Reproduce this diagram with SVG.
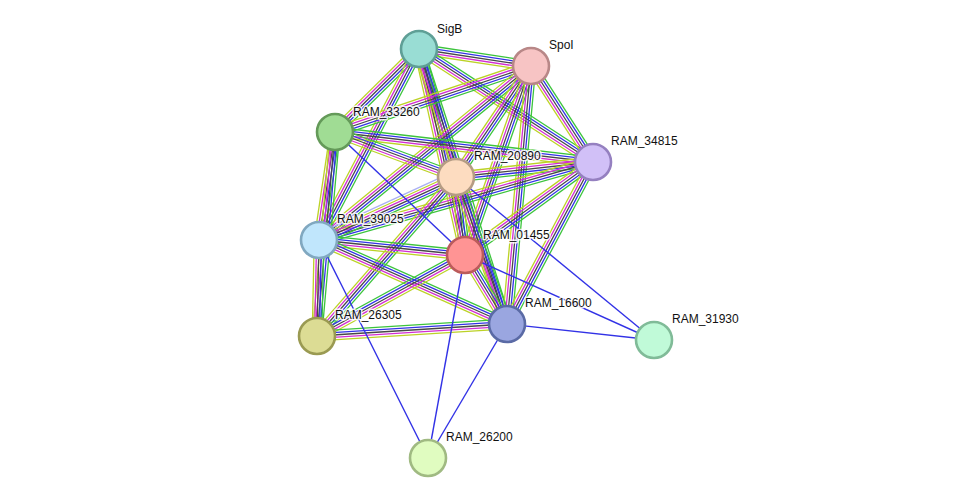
<svg xmlns="http://www.w3.org/2000/svg" width="975" height="503" viewBox="0 0 975 503">
<style>
.e line{stroke-width:1.3;fill:none}
.b{stroke:#3232e6;stroke-width:1.4;fill:none}
.n circle{stroke-width:2.6}
.n text{font-family:"Liberation Sans",Arial,sans-serif;font-size:12px;fill:#111;stroke:#fff;stroke-width:3;stroke-opacity:0.85;paint-order:stroke;stroke-linejoin:round}
</style>
<defs>
<g id="f" class="e">
<line x1="0" y1="-4.8" x2="1" y2="-4.8" stroke="#3cc43c"/>
<line x1="0" y1="-2.4" x2="1" y2="-2.4" stroke="#3232e6"/>
<line x1="0" y1="0" x2="1" y2="0" stroke="#474747"/>
<line x1="0" y1="2.4" x2="1" y2="2.4" stroke="#d22ed2"/>
<line x1="0" y1="4.8" x2="1" y2="4.8" stroke="#bcd226"/>
</g>
<g id="h" class="e">
<line x1="0" y1="-6" x2="1" y2="-6" stroke="#3cc43c"/>
<line x1="0" y1="-3.6" x2="1" y2="-3.6" stroke="#3232e6"/>
<line x1="0" y1="-1.2" x2="1" y2="-1.2" stroke="#474747"/>
<line x1="0" y1="1.2" x2="1" y2="1.2" stroke="#d22ed2"/>
<line x1="0" y1="3.6" x2="1" y2="3.6" stroke="#bcd226"/>
<line x1="0" y1="6" x2="1" y2="6" stroke="#aab0f4"/>
</g>
</defs>
<rect width="975" height="503" fill="#fff"/>
<g id="connectors">
<use href="#f" transform="translate(419,49) rotate(8.63) scale(113.3,1)"/>
<use href="#f" transform="translate(419,49) rotate(33.0) scale(207.5,1)"/>
<use href="#f" transform="translate(419,49) rotate(135.34) scale(118.1,1)"/>
<use href="#f" transform="translate(419,49) rotate(117.64) scale(215.6,1)"/>
<use href="#f" transform="translate(419,49) rotate(73.88) scale(133.2,1)"/>
<use href="#f" transform="translate(419,49) rotate(77.41) scale(211.1,1)"/>
<use href="#f" transform="translate(419,49) rotate(72.26) scale(288.7,1)"/>
<use href="#f" transform="translate(531,66) rotate(161.39) scale(206.8,1)"/>
<use href="#f" transform="translate(531,66) rotate(140.62) scale(274.3,1)"/>
<use href="#f" transform="translate(531,66) rotate(124.05) scale(134.0,1)"/>
<use href="#f" transform="translate(531,66) rotate(109.25) scale(200.2,1)"/>
<use href="#f" transform="translate(531,66) rotate(95.31) scale(259.1,1)"/>
<use href="#f" transform="translate(531,66) rotate(57.14) scale(114.3,1)"/>
<use href="#f" transform="translate(335,132) rotate(6.63) scale(259.7,1)"/>
<use href="#f" transform="translate(335,132) rotate(20.40) scale(129.1,1)"/>
<use href="#f" transform="translate(335,132) rotate(98.43) scale(109.2,1)"/>
<use href="#f" transform="translate(335,132) rotate(95.04) scale(204.8,1)"/>
<use href="#f" transform="translate(593,162) rotate(173.75) scale(137.8,1)"/>
<use href="#f" transform="translate(593,162) rotate(164.11) scale(284.9,1)"/>
<use href="#f" transform="translate(593,162) rotate(144.0) scale(158.2,1)"/>
<use href="#f" transform="translate(593,162) rotate(117.96) scale(183.4,1)"/>
<use href="#h" transform="translate(456,177) rotate(155.30) scale(150.8,1)"/>
<use href="#f" transform="translate(456,177) rotate(83.42) scale(78.5,1)"/>
<use href="#f" transform="translate(456,177) rotate(70.87) scale(155.6,1)"/>
<use href="#f" transform="translate(456,177) rotate(131.16) scale(211.2,1)"/>
<use href="#f" transform="translate(319,240) rotate(91.19) scale(96.0,1)"/>
<use href="#f" transform="translate(319,240) rotate(5.87) scale(146.8,1)"/>
<use href="#f" transform="translate(319,240) rotate(24.08) scale(205.9,1)"/>
<use href="#f" transform="translate(317,336) rotate(-28.69) scale(168.7,1)"/>
<use href="#f" transform="translate(317,336) rotate(-3.61) scale(190.4,1)"/>
<use href="#f" transform="translate(465,255) rotate(58.67) scale(80.8,1)"/>
<line class="b" x1="335" y1="132" x2="465" y2="255"/>
<line class="b" x1="456" y1="177" x2="654" y2="340"/>
<line class="b" x1="319" y1="240" x2="428" y2="458"/>
<line class="b" x1="465" y1="255" x2="654" y2="340"/>
<line class="b" x1="465" y1="255" x2="428" y2="458"/>
<line class="b" x1="507" y1="324" x2="654" y2="340"/>
<line class="b" x1="507" y1="324" x2="428" y2="458"/>
</g>
<g id="SigB" class="n"><circle cx="419" cy="49" r="18" fill="#99ddd4" stroke="#5f9f96"/><text x="437" y="33">SigB</text></g>
<g id="SpoI" class="n"><circle cx="531" cy="66" r="18" fill="#f7c4c4" stroke="#b88787"/><text x="549" y="49">SpoI</text></g>
<g id="RAM_33260" class="n"><circle cx="335" cy="132" r="18" fill="#a0dc94" stroke="#649a59"/><text x="353" y="116">RAM_33260</text></g>
<g id="RAM_34815" class="n"><circle cx="593" cy="162" r="18" fill="#d1c0f7" stroke="#9580c0"/><text x="611" y="145">RAM_34815</text></g>
<g id="RAM_20890" class="n"><circle cx="456" cy="177" r="18" fill="#fddcc0" stroke="#b59c84"/><text x="474" y="160">RAM_20890</text></g>
<g id="RAM_39025" class="n"><circle cx="319" cy="240" r="18" fill="#c0e6fc" stroke="#81a8c0"/><text x="337" y="223">RAM_39025</text></g>
<g id="RAM_01455" class="n"><circle cx="465" cy="255" r="18" fill="#ff9494" stroke="#bb5b5b"/><text x="483" y="239">RAM_01455</text></g>
<g id="RAM_26305" class="n"><circle cx="317" cy="336" r="18" fill="#dcdc94" stroke="#9a9a52"/><text x="335" y="319">RAM_26305</text></g>
<g id="RAM_16600" class="n"><circle cx="507" cy="324" r="18" fill="#9aa6e0" stroke="#5a6aa5"/><text x="525" y="307">RAM_16600</text></g>
<g id="RAM_31930" class="n"><circle cx="654" cy="340" r="18" fill="#c0fad8" stroke="#80bb98"/><text x="672" y="323">RAM_31930</text></g>
<g id="RAM_26200" class="n"><circle cx="428" cy="458" r="18" fill="#e0fcc0" stroke="#a0ba82"/><text x="446" y="441">RAM_26200</text></g>
</svg>
